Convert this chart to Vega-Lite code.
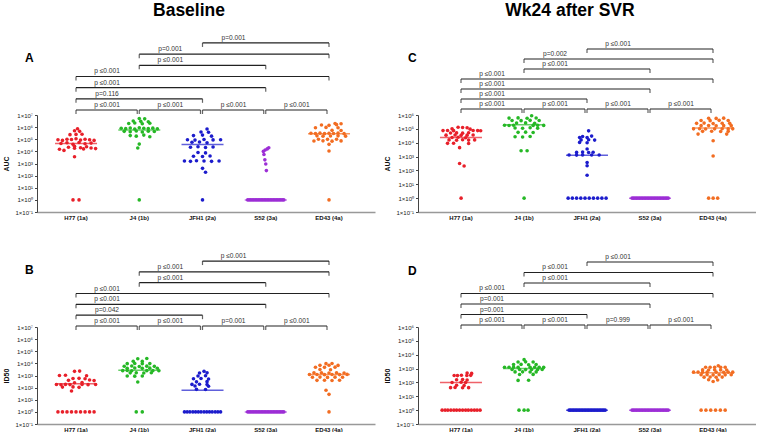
{
"$schema": "https://vega.github.io/schema/vega-lite/v6.json",
"background": "white",
"padding": {"left": 2, "top": 1, "right": 0, "bottom": 0},
"config": {"view": {"stroke": null}, "font": "Liberation Sans", "axis": {"grid": false}},
"datasets": {
"br": [
{"p":"A","a":3,"b":5,"lvl":7,"t":"p=0.001"},{"p":"A","a":2,"b":5,"lvl":6,"t":"p=0.001"},{"p":"A","a":2,"b":4,"lvl":5,"t":"p ≤0.001"},{"p":"A","a":1,"b":5,"lvl":4,"t":"p ≤0.001"},{"p":"A","a":1,"b":4,"lvl":3,"t":"p ≤0.001"},{"p":"A","a":1,"b":3,"lvl":2,"t":"p=0.116"},{"p":"A","a":1,"b":2,"lvl":1,"t":"p ≤0.001"},{"p":"A","a":2,"b":3,"lvl":1,"t":"p ≤0.001"},{"p":"A","a":3,"b":4,"lvl":1,"t":"p ≤0.001"},{"p":"A","a":4,"b":5,"lvl":1,"t":"p ≤0.001"},
{"p":"B","a":3,"b":5,"lvl":7,"t":"p ≤0.001"},{"p":"B","a":2,"b":5,"lvl":6,"t":"p ≤0.001"},{"p":"B","a":2,"b":4,"lvl":5,"t":"p ≤0.001"},{"p":"B","a":1,"b":5,"lvl":4,"t":"p ≤0.001"},{"p":"B","a":1,"b":4,"lvl":3,"t":"p ≤0.001"},{"p":"B","a":1,"b":3,"lvl":2,"t":"p=0.042"},{"p":"B","a":1,"b":2,"lvl":1,"t":"p ≤0.001"},{"p":"B","a":2,"b":3,"lvl":1,"t":"p ≤0.001"},{"p":"B","a":3,"b":4,"lvl":1,"t":"p=0.001"},{"p":"B","a":4,"b":5,"lvl":1,"t":"p ≤0.001"},
{"p":"C","a":3,"b":5,"lvl":7,"t":"p ≤0.001"},{"p":"C","a":2,"b":5,"lvl":6,"t":"p=0.002"},{"p":"C","a":2,"b":4,"lvl":5,"t":"p ≤0.001"},{"p":"C","a":1,"b":5,"lvl":4,"t":"p ≤0.001"},{"p":"C","a":1,"b":4,"lvl":3,"t":"p ≤0.001"},{"p":"C","a":1,"b":3,"lvl":2,"t":"p ≤0.001"},{"p":"C","a":1,"b":2,"lvl":1,"t":"p ≤0.001"},{"p":"C","a":2,"b":3,"lvl":1,"t":"p ≤0.001"},{"p":"C","a":3,"b":4,"lvl":1,"t":"p ≤0.001"},{"p":"C","a":4,"b":5,"lvl":1,"t":"p ≤0.001"},
{"p":"D","a":3,"b":5,"lvl":7,"t":"p ≤0.001"},{"p":"D","a":2,"b":5,"lvl":6,"t":"p ≤0.001"},{"p":"D","a":2,"b":4,"lvl":5,"t":"p ≤0.001"},{"p":"D","a":1,"b":5,"lvl":4,"t":"p ≤0.001"},{"p":"D","a":1,"b":4,"lvl":3,"t":"p=0.001"},{"p":"D","a":1,"b":3,"lvl":2,"t":"p=0.001"},{"p":"D","a":1,"b":2,"lvl":1,"t":"p ≤0.001"},{"p":"D","a":2,"b":3,"lvl":1,"t":"p ≤0.001"},{"p":"D","a":3,"b":4,"lvl":1,"t":"p=0.999"},{"p":"D","a":4,"b":5,"lvl":1,"t":"p ≤0.001"}
],
"med": [
{"p":"A","s":"H77 (1a)","v":45000},{"p":"A","s":"J4 (1b)","v":590000},{"p":"A","s":"JFH1 (2a)","v":37000},{"p":"A","s":"S52 (3a)","v":1},{"p":"A","s":"ED43 (4a)","v":280000},
{"p":"B","s":"H77 (1a)","v":210},{"p":"B","s":"J4 (1b)","v":2700},{"p":"B","s":"JFH1 (2a)","v":60},{"p":"B","s":"S52 (3a)","v":1},{"p":"B","s":"ED43 (4a)","v":1200},
{"p":"C","s":"H77 (1a)","v":24000},{"p":"C","s":"J4 (1b)","v":200000},{"p":"C","s":"JFH1 (2a)","v":1260},{"p":"C","s":"S52 (3a)","v":1},{"p":"C","s":"ED43 (4a)","v":115000},
{"p":"D","s":"H77 (1a)","v":100},{"p":"D","s":"J4 (1b)","v":1000},{"p":"D","s":"JFH1 (2a)","v":1},{"p":"D","s":"S52 (3a)","v":1},{"p":"D","s":"ED43 (4a)","v":500}
],
"pts": [
{"p":"A","s":"H77 (1a)","v":740000,"j":0.5},{"p":"A","s":"H77 (1a)","v":500000,"j":-0.5},{"p":"A","s":"H77 (1a)","v":450000,"j":1.2},{"p":"A","s":"H77 (1a)","v":240000,"j":-2},{"p":"A","s":"H77 (1a)","v":250000,"j":0},{"p":"A","s":"H77 (1a)","v":260000,"j":2},{"p":"A","s":"H77 (1a)","v":90000,"j":-6},{"p":"A","s":"H77 (1a)","v":80000,"j":-4.5},{"p":"A","s":"H77 (1a)","v":100000,"j":-3},{"p":"A","s":"H77 (1a)","v":95000,"j":-1.5},{"p":"A","s":"H77 (1a)","v":110000,"j":0},{"p":"A","s":"H77 (1a)","v":85000,"j":1.5},{"p":"A","s":"H77 (1a)","v":100000,"j":3},{"p":"A","s":"H77 (1a)","v":90000,"j":4.5},{"p":"A","s":"H77 (1a)","v":80000,"j":6},{"p":"A","s":"H77 (1a)","v":45000,"j":-5},{"p":"A","s":"H77 (1a)","v":52000,"j":-3},{"p":"A","s":"H77 (1a)","v":38000,"j":-1},{"p":"A","s":"H77 (1a)","v":54000,"j":1},{"p":"A","s":"H77 (1a)","v":42000,"j":3},{"p":"A","s":"H77 (1a)","v":48000,"j":5},{"p":"A","s":"H77 (1a)","v":22000,"j":-2.5},{"p":"A","s":"H77 (1a)","v":26000,"j":-0.5},{"p":"A","s":"H77 (1a)","v":20000,"j":1.5},{"p":"A","s":"H77 (1a)","v":24000,"j":3.5},{"p":"A","s":"H77 (1a)","v":15000,"j":-5.5},{"p":"A","s":"H77 (1a)","v":12000,"j":-4},{"p":"A","s":"H77 (1a)","v":18000,"j":-0.5},{"p":"A","s":"H77 (1a)","v":16000,"j":2.5},{"p":"A","s":"H77 (1a)","v":19000,"j":5},{"p":"A","s":"H77 (1a)","v":17000,"j":6.5},{"p":"A","s":"H77 (1a)","v":3600,"j":-0.5},{"p":"A","s":"H77 (1a)","v":1,"j":-1},{"p":"A","s":"H77 (1a)","v":1,"j":1},
{"p":"A","s":"J4 (1b)","v":5200000,"j":0},{"p":"A","s":"J4 (1b)","v":4800000,"j":1.8},{"p":"A","s":"J4 (1b)","v":3200000,"j":-2},{"p":"A","s":"J4 (1b)","v":3000000,"j":0.5},{"p":"A","s":"J4 (1b)","v":2800000,"j":3},{"p":"A","s":"J4 (1b)","v":2000000,"j":-3.5},{"p":"A","s":"J4 (1b)","v":2200000,"j":-1.5},{"p":"A","s":"J4 (1b)","v":1900000,"j":1},{"p":"A","s":"J4 (1b)","v":2100000,"j":3.5},{"p":"A","s":"J4 (1b)","v":800000,"j":-6},{"p":"A","s":"J4 (1b)","v":750000,"j":-4.5},{"p":"A","s":"J4 (1b)","v":850000,"j":-3},{"p":"A","s":"J4 (1b)","v":700000,"j":-1.5},{"p":"A","s":"J4 (1b)","v":900000,"j":0},{"p":"A","s":"J4 (1b)","v":800000,"j":1.5},{"p":"A","s":"J4 (1b)","v":780000,"j":3},{"p":"A","s":"J4 (1b)","v":820000,"j":4.5},{"p":"A","s":"J4 (1b)","v":720000,"j":6},{"p":"A","s":"J4 (1b)","v":450000,"j":-5},{"p":"A","s":"J4 (1b)","v":420000,"j":-3},{"p":"A","s":"J4 (1b)","v":480000,"j":-1},{"p":"A","s":"J4 (1b)","v":400000,"j":1},{"p":"A","s":"J4 (1b)","v":460000,"j":3},{"p":"A","s":"J4 (1b)","v":430000,"j":5},{"p":"A","s":"J4 (1b)","v":200000,"j":-3},{"p":"A","s":"J4 (1b)","v":180000,"j":-1},{"p":"A","s":"J4 (1b)","v":220000,"j":1.5},{"p":"A","s":"J4 (1b)","v":160000,"j":3.5},{"p":"A","s":"J4 (1b)","v":40000,"j":0},{"p":"A","s":"J4 (1b)","v":19000,"j":-0.5},{"p":"A","s":"J4 (1b)","v":1,"j":0},
{"p":"A","s":"JFH1 (2a)","v":700000,"j":1.5},{"p":"A","s":"JFH1 (2a)","v":400000,"j":-0.5},{"p":"A","s":"JFH1 (2a)","v":380000,"j":2},{"p":"A","s":"JFH1 (2a)","v":200000,"j":-3},{"p":"A","s":"JFH1 (2a)","v":220000,"j":0},{"p":"A","s":"JFH1 (2a)","v":180000,"j":3},{"p":"A","s":"JFH1 (2a)","v":90000,"j":-5},{"p":"A","s":"JFH1 (2a)","v":85000,"j":-2.5},{"p":"A","s":"JFH1 (2a)","v":95000,"j":0.5},{"p":"A","s":"JFH1 (2a)","v":88000,"j":3.5},{"p":"A","s":"JFH1 (2a)","v":92000,"j":6},{"p":"A","s":"JFH1 (2a)","v":56000,"j":-3.5},{"p":"A","s":"JFH1 (2a)","v":60000,"j":-1},{"p":"A","s":"JFH1 (2a)","v":52000,"j":1.5},{"p":"A","s":"JFH1 (2a)","v":22000,"j":-4},{"p":"A","s":"JFH1 (2a)","v":24000,"j":-1.5},{"p":"A","s":"JFH1 (2a)","v":21000,"j":1},{"p":"A","s":"JFH1 (2a)","v":23000,"j":3.5},{"p":"A","s":"JFH1 (2a)","v":8000,"j":-1.5},{"p":"A","s":"JFH1 (2a)","v":7500,"j":1},{"p":"A","s":"JFH1 (2a)","v":4000,"j":-3},{"p":"A","s":"JFH1 (2a)","v":3800,"j":0},{"p":"A","s":"JFH1 (2a)","v":4200,"j":2.5},{"p":"A","s":"JFH1 (2a)","v":1600,"j":-6},{"p":"A","s":"JFH1 (2a)","v":1500,"j":-4},{"p":"A","s":"JFH1 (2a)","v":1700,"j":-2},{"p":"A","s":"JFH1 (2a)","v":1600,"j":0.5},{"p":"A","s":"JFH1 (2a)","v":1500,"j":3},{"p":"A","s":"JFH1 (2a)","v":1600,"j":5.5},{"p":"A","s":"JFH1 (2a)","v":400,"j":0},{"p":"A","s":"JFH1 (2a)","v":190,"j":1},{"p":"A","s":"JFH1 (2a)","v":1,"j":0},
{"p":"A","s":"S52 (3a)","v":20000,"j":1},{"p":"A","s":"S52 (3a)","v":16000,"j":0.5},{"p":"A","s":"S52 (3a)","v":13000,"j":-0.2},{"p":"A","s":"S52 (3a)","v":10000,"j":-0.8},{"p":"A","s":"S52 (3a)","v":5500,"j":-0.6},{"p":"A","s":"S52 (3a)","v":2000,"j":-0.3},{"p":"A","s":"S52 (3a)","v":900,"j":0},{"p":"A","s":"S52 (3a)","v":260,"j":0.2},
{"p":"A","s":"S52 (3a)","v":1,"j":-6},{"p":"A","s":"S52 (3a)","v":1,"j":-5.5},{"p":"A","s":"S52 (3a)","v":1,"j":-5},{"p":"A","s":"S52 (3a)","v":1,"j":-4.5},{"p":"A","s":"S52 (3a)","v":1,"j":-4},{"p":"A","s":"S52 (3a)","v":1,"j":-3.5},{"p":"A","s":"S52 (3a)","v":1,"j":-3},{"p":"A","s":"S52 (3a)","v":1,"j":-2.5},{"p":"A","s":"S52 (3a)","v":1,"j":-2},{"p":"A","s":"S52 (3a)","v":1,"j":-1.5},{"p":"A","s":"S52 (3a)","v":1,"j":-1},{"p":"A","s":"S52 (3a)","v":1,"j":-0.5},{"p":"A","s":"S52 (3a)","v":1,"j":0},{"p":"A","s":"S52 (3a)","v":1,"j":0.5},{"p":"A","s":"S52 (3a)","v":1,"j":1},{"p":"A","s":"S52 (3a)","v":1,"j":1.5},{"p":"A","s":"S52 (3a)","v":1,"j":2},{"p":"A","s":"S52 (3a)","v":1,"j":2.5},{"p":"A","s":"S52 (3a)","v":1,"j":3},{"p":"A","s":"S52 (3a)","v":1,"j":3.5},{"p":"A","s":"S52 (3a)","v":1,"j":4},{"p":"A","s":"S52 (3a)","v":1,"j":4.5},{"p":"A","s":"S52 (3a)","v":1,"j":5},{"p":"A","s":"S52 (3a)","v":1,"j":5.5},{"p":"A","s":"S52 (3a)","v":1,"j":6},
{"p":"A","s":"ED43 (4a)","v":2000000,"j":2},{"p":"A","s":"ED43 (4a)","v":1900000,"j":4},{"p":"A","s":"ED43 (4a)","v":1500000,"j":-2.5},{"p":"A","s":"ED43 (4a)","v":1400000,"j":0},{"p":"A","s":"ED43 (4a)","v":1600000,"j":2.5},{"p":"A","s":"ED43 (4a)","v":900000,"j":-4.5},{"p":"A","s":"ED43 (4a)","v":950000,"j":-1},{"p":"A","s":"ED43 (4a)","v":880000,"j":3},{"p":"A","s":"ED43 (4a)","v":540000,"j":1},{"p":"A","s":"ED43 (4a)","v":520000,"j":4},{"p":"A","s":"ED43 (4a)","v":310000,"j":-6},{"p":"A","s":"ED43 (4a)","v":300000,"j":-4.5},{"p":"A","s":"ED43 (4a)","v":320000,"j":-3},{"p":"A","s":"ED43 (4a)","v":290000,"j":-1.5},{"p":"A","s":"ED43 (4a)","v":310000,"j":0},{"p":"A","s":"ED43 (4a)","v":300000,"j":1.5},{"p":"A","s":"ED43 (4a)","v":320000,"j":3},{"p":"A","s":"ED43 (4a)","v":290000,"j":5},{"p":"A","s":"ED43 (4a)","v":190000,"j":-4},{"p":"A","s":"ED43 (4a)","v":180000,"j":-2},{"p":"A","s":"ED43 (4a)","v":185000,"j":0.5},{"p":"A","s":"ED43 (4a)","v":190000,"j":3},{"p":"A","s":"ED43 (4a)","v":180000,"j":5.5},{"p":"A","s":"ED43 (4a)","v":100000,"j":-3.5},{"p":"A","s":"ED43 (4a)","v":98000,"j":-0.5},{"p":"A","s":"ED43 (4a)","v":100000,"j":2.5},{"p":"A","s":"ED43 (4a)","v":72000,"j":-5},{"p":"A","s":"ED43 (4a)","v":74000,"j":-2},{"p":"A","s":"ED43 (4a)","v":70000,"j":1},{"p":"A","s":"ED43 (4a)","v":73000,"j":4},{"p":"A","s":"ED43 (4a)","v":38000,"j":0},{"p":"A","s":"ED43 (4a)","v":10700,"j":0},{"p":"A","s":"ED43 (4a)","v":1,"j":0},

{"p":"B","s":"H77 (1a)","v":2200,"j":-0.5},{"p":"B","s":"H77 (1a)","v":2300,"j":1.2},{"p":"B","s":"H77 (1a)","v":1000,"j":-5.5},{"p":"B","s":"H77 (1a)","v":1050,"j":-3.5},{"p":"B","s":"H77 (1a)","v":950,"j":3.5},{"p":"B","s":"H77 (1a)","v":560,"j":-1},{"p":"B","s":"H77 (1a)","v":580,"j":1},{"p":"B","s":"H77 (1a)","v":540,"j":3},{"p":"B","s":"H77 (1a)","v":400,"j":-2.5},{"p":"B","s":"H77 (1a)","v":420,"j":4.5},{"p":"B","s":"H77 (1a)","v":380,"j":6},{"p":"B","s":"H77 (1a)","v":250,"j":-0.5},{"p":"B","s":"H77 (1a)","v":260,"j":2},{"p":"B","s":"H77 (1a)","v":180,"j":-6.5},{"p":"B","s":"H77 (1a)","v":175,"j":-5},{"p":"B","s":"H77 (1a)","v":185,"j":-3.5},{"p":"B","s":"H77 (1a)","v":178,"j":-2},{"p":"B","s":"H77 (1a)","v":182,"j":2},{"p":"B","s":"H77 (1a)","v":176,"j":4},{"p":"B","s":"H77 (1a)","v":180,"j":6.5},{"p":"B","s":"H77 (1a)","v":110,"j":-4.5},{"p":"B","s":"H77 (1a)","v":115,"j":-1},{"p":"B","s":"H77 (1a)","v":105,"j":1},{"p":"B","s":"H77 (1a)","v":52,"j":-1.5},
{"p":"B","s":"H77 (1a)","v":1,"j":-6},{"p":"B","s":"H77 (1a)","v":1,"j":-4.5},{"p":"B","s":"H77 (1a)","v":1,"j":-3},{"p":"B","s":"H77 (1a)","v":1,"j":-1.5},{"p":"B","s":"H77 (1a)","v":1,"j":0},{"p":"B","s":"H77 (1a)","v":1,"j":1.5},{"p":"B","s":"H77 (1a)","v":1,"j":3},{"p":"B","s":"H77 (1a)","v":1,"j":4.5},{"p":"B","s":"H77 (1a)","v":1,"j":6},
{"p":"B","s":"J4 (1b)","v":24000,"j":-0.5},{"p":"B","s":"J4 (1b)","v":25000,"j":2.5},{"p":"B","s":"J4 (1b)","v":15000,"j":-2},{"p":"B","s":"J4 (1b)","v":14500,"j":1},{"p":"B","s":"J4 (1b)","v":9500,"j":-4},{"p":"B","s":"J4 (1b)","v":9800,"j":-1.5},{"p":"B","s":"J4 (1b)","v":9200,"j":1},{"p":"B","s":"J4 (1b)","v":9600,"j":3.5},{"p":"B","s":"J4 (1b)","v":5800,"j":-5},{"p":"B","s":"J4 (1b)","v":6000,"j":-2.5},{"p":"B","s":"J4 (1b)","v":5600,"j":0},{"p":"B","s":"J4 (1b)","v":5900,"j":2.5},{"p":"B","s":"J4 (1b)","v":5700,"j":5},{"p":"B","s":"J4 (1b)","v":4000,"j":-4},{"p":"B","s":"J4 (1b)","v":4100,"j":-1.5},{"p":"B","s":"J4 (1b)","v":3900,"j":1},{"p":"B","s":"J4 (1b)","v":4050,"j":3.5},{"p":"B","s":"J4 (1b)","v":3950,"j":6},{"p":"B","s":"J4 (1b)","v":2500,"j":-5.5},{"p":"B","s":"J4 (1b)","v":2550,"j":-4},{"p":"B","s":"J4 (1b)","v":2450,"j":-2.5},{"p":"B","s":"J4 (1b)","v":2500,"j":2.5},{"p":"B","s":"J4 (1b)","v":2520,"j":4.5},{"p":"B","s":"J4 (1b)","v":2480,"j":6.5},{"p":"B","s":"J4 (1b)","v":1650,"j":-3},{"p":"B","s":"J4 (1b)","v":1700,"j":-1},{"p":"B","s":"J4 (1b)","v":1600,"j":1.5},{"p":"B","s":"J4 (1b)","v":1680,"j":4},{"p":"B","s":"J4 (1b)","v":900,"j":-4},{"p":"B","s":"J4 (1b)","v":880,"j":-1.5},{"p":"B","s":"J4 (1b)","v":920,"j":1},{"p":"B","s":"J4 (1b)","v":290,"j":-0.5},{"p":"B","s":"J4 (1b)","v":1,"j":-1},{"p":"B","s":"J4 (1b)","v":1,"j":1},
{"p":"B","s":"JFH1 (2a)","v":2200,"j":0.5},{"p":"B","s":"JFH1 (2a)","v":1600,"j":-1},{"p":"B","s":"JFH1 (2a)","v":1650,"j":1.5},{"p":"B","s":"JFH1 (2a)","v":900,"j":-1.5},{"p":"B","s":"JFH1 (2a)","v":950,"j":1},{"p":"B","s":"JFH1 (2a)","v":540,"j":-3},{"p":"B","s":"JFH1 (2a)","v":560,"j":-0.5},{"p":"B","s":"JFH1 (2a)","v":520,"j":2},{"p":"B","s":"JFH1 (2a)","v":300,"j":-2},{"p":"B","s":"JFH1 (2a)","v":310,"j":1.5},{"p":"B","s":"JFH1 (2a)","v":185,"j":-3.5},{"p":"B","s":"JFH1 (2a)","v":190,"j":-1},{"p":"B","s":"JFH1 (2a)","v":180,"j":1.5},{"p":"B","s":"JFH1 (2a)","v":135,"j":-2.5},{"p":"B","s":"JFH1 (2a)","v":130,"j":2},{"p":"B","s":"JFH1 (2a)","v":72,"j":-2},{"p":"B","s":"JFH1 (2a)","v":70,"j":1},
{"p":"B","s":"JFH1 (2a)","v":1,"j":-6},{"p":"B","s":"JFH1 (2a)","v":1,"j":-5.1},{"p":"B","s":"JFH1 (2a)","v":1,"j":-4.2},{"p":"B","s":"JFH1 (2a)","v":1,"j":-3.2},{"p":"B","s":"JFH1 (2a)","v":1,"j":-2.3},{"p":"B","s":"JFH1 (2a)","v":1,"j":-1.4},{"p":"B","s":"JFH1 (2a)","v":1,"j":-0.5},{"p":"B","s":"JFH1 (2a)","v":1,"j":0.5},{"p":"B","s":"JFH1 (2a)","v":1,"j":1.4},{"p":"B","s":"JFH1 (2a)","v":1,"j":2.3},{"p":"B","s":"JFH1 (2a)","v":1,"j":3.2},{"p":"B","s":"JFH1 (2a)","v":1,"j":4.2},{"p":"B","s":"JFH1 (2a)","v":1,"j":5.1},{"p":"B","s":"JFH1 (2a)","v":1,"j":6},
{"p":"B","s":"S52 (3a)","v":1,"j":-6},{"p":"B","s":"S52 (3a)","v":1,"j":-5.5},{"p":"B","s":"S52 (3a)","v":1,"j":-5},{"p":"B","s":"S52 (3a)","v":1,"j":-4.5},{"p":"B","s":"S52 (3a)","v":1,"j":-4},{"p":"B","s":"S52 (3a)","v":1,"j":-3.5},{"p":"B","s":"S52 (3a)","v":1,"j":-3},{"p":"B","s":"S52 (3a)","v":1,"j":-2.5},{"p":"B","s":"S52 (3a)","v":1,"j":-2},{"p":"B","s":"S52 (3a)","v":1,"j":-1.5},{"p":"B","s":"S52 (3a)","v":1,"j":-1},{"p":"B","s":"S52 (3a)","v":1,"j":-0.5},{"p":"B","s":"S52 (3a)","v":1,"j":0},{"p":"B","s":"S52 (3a)","v":1,"j":0.5},{"p":"B","s":"S52 (3a)","v":1,"j":1},{"p":"B","s":"S52 (3a)","v":1,"j":1.5},{"p":"B","s":"S52 (3a)","v":1,"j":2},{"p":"B","s":"S52 (3a)","v":1,"j":2.5},{"p":"B","s":"S52 (3a)","v":1,"j":3},{"p":"B","s":"S52 (3a)","v":1,"j":3.5},{"p":"B","s":"S52 (3a)","v":1,"j":4},{"p":"B","s":"S52 (3a)","v":1,"j":4.5},{"p":"B","s":"S52 (3a)","v":1,"j":5},{"p":"B","s":"S52 (3a)","v":1,"j":5.5},{"p":"B","s":"S52 (3a)","v":1,"j":6},
{"p":"B","s":"ED43 (4a)","v":9500,"j":-1},{"p":"B","s":"ED43 (4a)","v":9700,"j":1},{"p":"B","s":"ED43 (4a)","v":6900,"j":-3},{"p":"B","s":"ED43 (4a)","v":7100,"j":0},{"p":"B","s":"ED43 (4a)","v":6800,"j":3},{"p":"B","s":"ED43 (4a)","v":4800,"j":-4.5},{"p":"B","s":"ED43 (4a)","v":4700,"j":-1.5},{"p":"B","s":"ED43 (4a)","v":4900,"j":2},{"p":"B","s":"ED43 (4a)","v":3100,"j":-3},{"p":"B","s":"ED43 (4a)","v":3000,"j":0.5},{"p":"B","s":"ED43 (4a)","v":1650,"j":-5},{"p":"B","s":"ED43 (4a)","v":1700,"j":-2.5},{"p":"B","s":"ED43 (4a)","v":1600,"j":0},{"p":"B","s":"ED43 (4a)","v":1680,"j":2.5},{"p":"B","s":"ED43 (4a)","v":1620,"j":5},{"p":"B","s":"ED43 (4a)","v":1200,"j":-6.5},{"p":"B","s":"ED43 (4a)","v":1220,"j":-4},{"p":"B","s":"ED43 (4a)","v":1180,"j":-1.5},{"p":"B","s":"ED43 (4a)","v":1210,"j":1},{"p":"B","s":"ED43 (4a)","v":1190,"j":3.5},{"p":"B","s":"ED43 (4a)","v":1230,"j":6},{"p":"B","s":"ED43 (4a)","v":720,"j":-5.5},{"p":"B","s":"ED43 (4a)","v":740,"j":-3},{"p":"B","s":"ED43 (4a)","v":700,"j":-0.5},{"p":"B","s":"ED43 (4a)","v":730,"j":2},{"p":"B","s":"ED43 (4a)","v":710,"j":4.5},{"p":"B","s":"ED43 (4a)","v":400,"j":-4},{"p":"B","s":"ED43 (4a)","v":410,"j":-1.5},{"p":"B","s":"ED43 (4a)","v":390,"j":1},{"p":"B","s":"ED43 (4a)","v":405,"j":3.5},{"p":"B","s":"ED43 (4a)","v":60,"j":-1},{"p":"B","s":"ED43 (4a)","v":28,"j":0},{"p":"B","s":"ED43 (4a)","v":1,"j":0},

{"p":"C","s":"H77 (1a)","v":130000,"j":-1},{"p":"C","s":"H77 (1a)","v":125000,"j":0.5},{"p":"C","s":"H77 (1a)","v":120000,"j":2},{"p":"C","s":"H77 (1a)","v":100000,"j":-3},{"p":"C","s":"H77 (1a)","v":95000,"j":3},{"p":"C","s":"H77 (1a)","v":75000,"j":-6},{"p":"C","s":"H77 (1a)","v":77000,"j":-4.5},{"p":"C","s":"H77 (1a)","v":74000,"j":-2.5},{"p":"C","s":"H77 (1a)","v":76000,"j":4},{"p":"C","s":"H77 (1a)","v":75000,"j":5.5},{"p":"C","s":"H77 (1a)","v":73000,"j":6.5},{"p":"C","s":"H77 (1a)","v":50000,"j":-3.5},{"p":"C","s":"H77 (1a)","v":51000,"j":-1.5},{"p":"C","s":"H77 (1a)","v":49000,"j":0.5},{"p":"C","s":"H77 (1a)","v":52000,"j":2.5},{"p":"C","s":"H77 (1a)","v":35000,"j":-5},{"p":"C","s":"H77 (1a)","v":36000,"j":-2},{"p":"C","s":"H77 (1a)","v":34000,"j":0},{"p":"C","s":"H77 (1a)","v":35000,"j":2},{"p":"C","s":"H77 (1a)","v":36000,"j":4},{"p":"C","s":"H77 (1a)","v":24000,"j":-3},{"p":"C","s":"H77 (1a)","v":25000,"j":-1},{"p":"C","s":"H77 (1a)","v":23000,"j":1.5},{"p":"C","s":"H77 (1a)","v":16000,"j":-4},{"p":"C","s":"H77 (1a)","v":15000,"j":-1.5},{"p":"C","s":"H77 (1a)","v":16500,"j":0.5},{"p":"C","s":"H77 (1a)","v":15500,"j":2.5},{"p":"C","s":"H77 (1a)","v":16000,"j":4.5},{"p":"C","s":"H77 (1a)","v":9000,"j":-4.5},{"p":"C","s":"H77 (1a)","v":9200,"j":-2.5},{"p":"C","s":"H77 (1a)","v":8800,"j":2.5},{"p":"C","s":"H77 (1a)","v":4400,"j":-0.5},{"p":"C","s":"H77 (1a)","v":320,"j":-0.5},{"p":"C","s":"H77 (1a)","v":210,"j":1},{"p":"C","s":"H77 (1a)","v":1,"j":0},
{"p":"C","s":"J4 (1b)","v":890000,"j":2.5},{"p":"C","s":"J4 (1b)","v":600000,"j":-5},{"p":"C","s":"J4 (1b)","v":620000,"j":-2},{"p":"C","s":"J4 (1b)","v":580000,"j":1},{"p":"C","s":"J4 (1b)","v":610000,"j":4},{"p":"C","s":"J4 (1b)","v":400000,"j":-4},{"p":"C","s":"J4 (1b)","v":390000,"j":-1},{"p":"C","s":"J4 (1b)","v":410000,"j":2},{"p":"C","s":"J4 (1b)","v":400000,"j":5},{"p":"C","s":"J4 (1b)","v":260000,"j":-2.5},{"p":"C","s":"J4 (1b)","v":270000,"j":0.5},{"p":"C","s":"J4 (1b)","v":250000,"j":3.5},{"p":"C","s":"J4 (1b)","v":180000,"j":-6.5},{"p":"C","s":"J4 (1b)","v":175000,"j":-5},{"p":"C","s":"J4 (1b)","v":180000,"j":-3.5},{"p":"C","s":"J4 (1b)","v":178000,"j":3},{"p":"C","s":"J4 (1b)","v":182000,"j":4.5},{"p":"C","s":"J4 (1b)","v":177000,"j":6.5},{"p":"C","s":"J4 (1b)","v":115000,"j":-3},{"p":"C","s":"J4 (1b)","v":110000,"j":-0.5},{"p":"C","s":"J4 (1b)","v":120000,"j":2},{"p":"C","s":"J4 (1b)","v":112000,"j":4.5},{"p":"C","s":"J4 (1b)","v":56000,"j":-2},{"p":"C","s":"J4 (1b)","v":58000,"j":0.5},{"p":"C","s":"J4 (1b)","v":55000,"j":3},{"p":"C","s":"J4 (1b)","v":27000,"j":-3},{"p":"C","s":"J4 (1b)","v":26000,"j":-0.5},{"p":"C","s":"J4 (1b)","v":28000,"j":2},{"p":"C","s":"J4 (1b)","v":2600,"j":-1},{"p":"C","s":"J4 (1b)","v":2650,"j":1},{"p":"C","s":"J4 (1b)","v":1,"j":0},
{"p":"C","s":"JFH1 (2a)","v":72000,"j":0.5},{"p":"C","s":"JFH1 (2a)","v":28000,"j":-1.5},{"p":"C","s":"JFH1 (2a)","v":30000,"j":1.5},{"p":"C","s":"JFH1 (2a)","v":24000,"j":-2.5},{"p":"C","s":"JFH1 (2a)","v":23500,"j":0},{"p":"C","s":"JFH1 (2a)","v":16000,"j":-2},{"p":"C","s":"JFH1 (2a)","v":16500,"j":0.5},{"p":"C","s":"JFH1 (2a)","v":15500,"j":2.5},{"p":"C","s":"JFH1 (2a)","v":10500,"j":-2.5},{"p":"C","s":"JFH1 (2a)","v":10000,"j":0},{"p":"C","s":"JFH1 (2a)","v":3500,"j":0},{"p":"C","s":"JFH1 (2a)","v":2000,"j":-3.5},{"p":"C","s":"JFH1 (2a)","v":2100,"j":-1.5},{"p":"C","s":"JFH1 (2a)","v":1950,"j":0.5},{"p":"C","s":"JFH1 (2a)","v":2050,"j":2},{"p":"C","s":"JFH1 (2a)","v":1300,"j":-6},{"p":"C","s":"JFH1 (2a)","v":1280,"j":-3.5},{"p":"C","s":"JFH1 (2a)","v":1320,"j":-1.5},{"p":"C","s":"JFH1 (2a)","v":1290,"j":1.5},{"p":"C","s":"JFH1 (2a)","v":1310,"j":4},{"p":"C","s":"JFH1 (2a)","v":370,"j":0},{"p":"C","s":"JFH1 (2a)","v":215,"j":0},{"p":"C","s":"JFH1 (2a)","v":45,"j":0},
{"p":"C","s":"JFH1 (2a)","v":1,"j":-6.3},{"p":"C","s":"JFH1 (2a)","v":1,"j":-4.9},{"p":"C","s":"JFH1 (2a)","v":1,"j":-3.5},{"p":"C","s":"JFH1 (2a)","v":1,"j":-2.1},{"p":"C","s":"JFH1 (2a)","v":1,"j":-0.7},{"p":"C","s":"JFH1 (2a)","v":1,"j":0.7},{"p":"C","s":"JFH1 (2a)","v":1,"j":2.1},{"p":"C","s":"JFH1 (2a)","v":1,"j":3.5},{"p":"C","s":"JFH1 (2a)","v":1,"j":4.9},{"p":"C","s":"JFH1 (2a)","v":1,"j":6.3},
{"p":"C","s":"S52 (3a)","v":1,"j":-6},{"p":"C","s":"S52 (3a)","v":1,"j":-5.5},{"p":"C","s":"S52 (3a)","v":1,"j":-5},{"p":"C","s":"S52 (3a)","v":1,"j":-4.5},{"p":"C","s":"S52 (3a)","v":1,"j":-4},{"p":"C","s":"S52 (3a)","v":1,"j":-3.5},{"p":"C","s":"S52 (3a)","v":1,"j":-3},{"p":"C","s":"S52 (3a)","v":1,"j":-2.5},{"p":"C","s":"S52 (3a)","v":1,"j":-2},{"p":"C","s":"S52 (3a)","v":1,"j":-1.5},{"p":"C","s":"S52 (3a)","v":1,"j":-1},{"p":"C","s":"S52 (3a)","v":1,"j":-0.5},{"p":"C","s":"S52 (3a)","v":1,"j":0},{"p":"C","s":"S52 (3a)","v":1,"j":0.5},{"p":"C","s":"S52 (3a)","v":1,"j":1},{"p":"C","s":"S52 (3a)","v":1,"j":1.5},{"p":"C","s":"S52 (3a)","v":1,"j":2},{"p":"C","s":"S52 (3a)","v":1,"j":2.5},{"p":"C","s":"S52 (3a)","v":1,"j":3},{"p":"C","s":"S52 (3a)","v":1,"j":3.5},{"p":"C","s":"S52 (3a)","v":1,"j":4},{"p":"C","s":"S52 (3a)","v":1,"j":4.5},{"p":"C","s":"S52 (3a)","v":1,"j":5},{"p":"C","s":"S52 (3a)","v":1,"j":5.5},{"p":"C","s":"S52 (3a)","v":1,"j":6},
{"p":"C","s":"ED43 (4a)","v":580000,"j":-1.5},{"p":"C","s":"ED43 (4a)","v":570000,"j":1},{"p":"C","s":"ED43 (4a)","v":590000,"j":3.5},{"p":"C","s":"ED43 (4a)","v":400000,"j":-4},{"p":"C","s":"ED43 (4a)","v":390000,"j":-1},{"p":"C","s":"ED43 (4a)","v":410000,"j":2},{"p":"C","s":"ED43 (4a)","v":400000,"j":5},{"p":"C","s":"ED43 (4a)","v":250000,"j":-5.5},{"p":"C","s":"ED43 (4a)","v":260000,"j":-3},{"p":"C","s":"ED43 (4a)","v":240000,"j":0},{"p":"C","s":"ED43 (4a)","v":255000,"j":3},{"p":"C","s":"ED43 (4a)","v":250000,"j":5.5},{"p":"C","s":"ED43 (4a)","v":170000,"j":-4},{"p":"C","s":"ED43 (4a)","v":172000,"j":-1.5},{"p":"C","s":"ED43 (4a)","v":168000,"j":1},{"p":"C","s":"ED43 (4a)","v":170000,"j":3.5},{"p":"C","s":"ED43 (4a)","v":171000,"j":6},{"p":"C","s":"ED43 (4a)","v":100000,"j":-6.5},{"p":"C","s":"ED43 (4a)","v":102000,"j":-4.5},{"p":"C","s":"ED43 (4a)","v":98000,"j":-2.5},{"p":"C","s":"ED43 (4a)","v":100000,"j":0.5},{"p":"C","s":"ED43 (4a)","v":101000,"j":3},{"p":"C","s":"ED43 (4a)","v":99000,"j":5},{"p":"C","s":"ED43 (4a)","v":100000,"j":6.5},{"p":"C","s":"ED43 (4a)","v":66000,"j":-3.5},{"p":"C","s":"ED43 (4a)","v":67000,"j":-0.5},{"p":"C","s":"ED43 (4a)","v":65000,"j":2.5},{"p":"C","s":"ED43 (4a)","v":66000,"j":5},{"p":"C","s":"ED43 (4a)","v":42000,"j":-5},{"p":"C","s":"ED43 (4a)","v":42000,"j":4.5},{"p":"C","s":"ED43 (4a)","v":14000,"j":0},{"p":"C","s":"ED43 (4a)","v":1100,"j":0},{"p":"C","s":"ED43 (4a)","v":1,"j":-1.5},{"p":"C","s":"ED43 (4a)","v":1,"j":0},{"p":"C","s":"ED43 (4a)","v":1,"j":1.5},

{"p":"D","s":"H77 (1a)","v":480,"j":2},{"p":"D","s":"H77 (1a)","v":450,"j":3.5},{"p":"D","s":"H77 (1a)","v":320,"j":-2.3},{"p":"D","s":"H77 (1a)","v":310,"j":-1.2},{"p":"D","s":"H77 (1a)","v":330,"j":0.1},{"p":"D","s":"H77 (1a)","v":315,"j":1.9},{"p":"D","s":"H77 (1a)","v":325,"j":3.2},{"p":"D","s":"H77 (1a)","v":155,"j":-1.5},{"p":"D","s":"H77 (1a)","v":160,"j":0.5},{"p":"D","s":"H77 (1a)","v":150,"j":2},{"p":"D","s":"H77 (1a)","v":100,"j":-3},{"p":"D","s":"H77 (1a)","v":102,"j":0},{"p":"D","s":"H77 (1a)","v":98,"j":1.5},{"p":"D","s":"H77 (1a)","v":62,"j":-1.5},{"p":"D","s":"H77 (1a)","v":60,"j":1},{"p":"D","s":"H77 (1a)","v":42,"j":-3.5},{"p":"D","s":"H77 (1a)","v":43,"j":-2},{"p":"D","s":"H77 (1a)","v":41,"j":0.5},{"p":"D","s":"H77 (1a)","v":42,"j":2.5},
{"p":"D","s":"H77 (1a)","v":1,"j":-6.3},{"p":"D","s":"H77 (1a)","v":1,"j":-5.3},{"p":"D","s":"H77 (1a)","v":1,"j":-4.4},{"p":"D","s":"H77 (1a)","v":1,"j":-3.4},{"p":"D","s":"H77 (1a)","v":1,"j":-2.4},{"p":"D","s":"H77 (1a)","v":1,"j":-1.5},{"p":"D","s":"H77 (1a)","v":1,"j":-0.5},{"p":"D","s":"H77 (1a)","v":1,"j":0.5},{"p":"D","s":"H77 (1a)","v":1,"j":1.5},{"p":"D","s":"H77 (1a)","v":1,"j":2.4},{"p":"D","s":"H77 (1a)","v":1,"j":3.4},{"p":"D","s":"H77 (1a)","v":1,"j":4.4},{"p":"D","s":"H77 (1a)","v":1,"j":5.3},{"p":"D","s":"H77 (1a)","v":1,"j":6.3},
{"p":"D","s":"J4 (1b)","v":4400,"j":0},{"p":"D","s":"J4 (1b)","v":3000,"j":-2},{"p":"D","s":"J4 (1b)","v":3050,"j":0.5},{"p":"D","s":"J4 (1b)","v":2950,"j":3},{"p":"D","s":"J4 (1b)","v":1950,"j":-3.5},{"p":"D","s":"J4 (1b)","v":2000,"j":-1},{"p":"D","s":"J4 (1b)","v":1900,"j":1.5},{"p":"D","s":"J4 (1b)","v":1980,"j":4},{"p":"D","s":"J4 (1b)","v":1250,"j":-6.5},{"p":"D","s":"J4 (1b)","v":1260,"j":-5},{"p":"D","s":"J4 (1b)","v":1240,"j":-3.5},{"p":"D","s":"J4 (1b)","v":1250,"j":-2},{"p":"D","s":"J4 (1b)","v":1255,"j":2},{"p":"D","s":"J4 (1b)","v":1245,"j":3.5},{"p":"D","s":"J4 (1b)","v":1250,"j":5},{"p":"D","s":"J4 (1b)","v":1260,"j":6.5},{"p":"D","s":"J4 (1b)","v":850,"j":-4},{"p":"D","s":"J4 (1b)","v":860,"j":-1.5},{"p":"D","s":"J4 (1b)","v":840,"j":0.5},{"p":"D","s":"J4 (1b)","v":855,"j":2.5},{"p":"D","s":"J4 (1b)","v":845,"j":4.5},{"p":"D","s":"J4 (1b)","v":850,"j":6},{"p":"D","s":"J4 (1b)","v":575,"j":-3},{"p":"D","s":"J4 (1b)","v":580,"j":-0.5},{"p":"D","s":"J4 (1b)","v":570,"j":2},{"p":"D","s":"J4 (1b)","v":575,"j":4},{"p":"D","s":"J4 (1b)","v":370,"j":-1.5},{"p":"D","s":"J4 (1b)","v":380,"j":3},{"p":"D","s":"J4 (1b)","v":140,"j":-2},{"p":"D","s":"J4 (1b)","v":145,"j":1.5},{"p":"D","s":"J4 (1b)","v":1,"j":-1.7},{"p":"D","s":"J4 (1b)","v":1,"j":0},{"p":"D","s":"J4 (1b)","v":1,"j":1.3},
{"p":"D","s":"JFH1 (2a)","v":1,"j":-6},{"p":"D","s":"JFH1 (2a)","v":1,"j":-5.5},{"p":"D","s":"JFH1 (2a)","v":1,"j":-5},{"p":"D","s":"JFH1 (2a)","v":1,"j":-4.5},{"p":"D","s":"JFH1 (2a)","v":1,"j":-4},{"p":"D","s":"JFH1 (2a)","v":1,"j":-3.5},{"p":"D","s":"JFH1 (2a)","v":1,"j":-3},{"p":"D","s":"JFH1 (2a)","v":1,"j":-2.5},{"p":"D","s":"JFH1 (2a)","v":1,"j":-2},{"p":"D","s":"JFH1 (2a)","v":1,"j":-1.5},{"p":"D","s":"JFH1 (2a)","v":1,"j":-1},{"p":"D","s":"JFH1 (2a)","v":1,"j":-0.5},{"p":"D","s":"JFH1 (2a)","v":1,"j":0},{"p":"D","s":"JFH1 (2a)","v":1,"j":0.5},{"p":"D","s":"JFH1 (2a)","v":1,"j":1},{"p":"D","s":"JFH1 (2a)","v":1,"j":1.5},{"p":"D","s":"JFH1 (2a)","v":1,"j":2},{"p":"D","s":"JFH1 (2a)","v":1,"j":2.5},{"p":"D","s":"JFH1 (2a)","v":1,"j":3},{"p":"D","s":"JFH1 (2a)","v":1,"j":3.5},{"p":"D","s":"JFH1 (2a)","v":1,"j":4},{"p":"D","s":"JFH1 (2a)","v":1,"j":4.5},{"p":"D","s":"JFH1 (2a)","v":1,"j":5},{"p":"D","s":"JFH1 (2a)","v":1,"j":5.5},{"p":"D","s":"JFH1 (2a)","v":1,"j":6},
{"p":"D","s":"S52 (3a)","v":1,"j":-6},{"p":"D","s":"S52 (3a)","v":1,"j":-5.5},{"p":"D","s":"S52 (3a)","v":1,"j":-5},{"p":"D","s":"S52 (3a)","v":1,"j":-4.5},{"p":"D","s":"S52 (3a)","v":1,"j":-4},{"p":"D","s":"S52 (3a)","v":1,"j":-3.5},{"p":"D","s":"S52 (3a)","v":1,"j":-3},{"p":"D","s":"S52 (3a)","v":1,"j":-2.5},{"p":"D","s":"S52 (3a)","v":1,"j":-2},{"p":"D","s":"S52 (3a)","v":1,"j":-1.5},{"p":"D","s":"S52 (3a)","v":1,"j":-1},{"p":"D","s":"S52 (3a)","v":1,"j":-0.5},{"p":"D","s":"S52 (3a)","v":1,"j":0},{"p":"D","s":"S52 (3a)","v":1,"j":0.5},{"p":"D","s":"S52 (3a)","v":1,"j":1},{"p":"D","s":"S52 (3a)","v":1,"j":1.5},{"p":"D","s":"S52 (3a)","v":1,"j":2},{"p":"D","s":"S52 (3a)","v":1,"j":2.5},{"p":"D","s":"S52 (3a)","v":1,"j":3},{"p":"D","s":"S52 (3a)","v":1,"j":3.5},{"p":"D","s":"S52 (3a)","v":1,"j":4},{"p":"D","s":"S52 (3a)","v":1,"j":4.5},{"p":"D","s":"S52 (3a)","v":1,"j":5},{"p":"D","s":"S52 (3a)","v":1,"j":5.5},{"p":"D","s":"S52 (3a)","v":1,"j":6},
{"p":"D","s":"ED43 (4a)","v":1600,"j":1.7},{"p":"D","s":"ED43 (4a)","v":1250,"j":-2.5},{"p":"D","s":"ED43 (4a)","v":1260,"j":-1},{"p":"D","s":"ED43 (4a)","v":1240,"j":0.5},{"p":"D","s":"ED43 (4a)","v":1255,"j":2.5},{"p":"D","s":"ED43 (4a)","v":1245,"j":4},{"p":"D","s":"ED43 (4a)","v":800,"j":-3.5},{"p":"D","s":"ED43 (4a)","v":790,"j":-1.5},{"p":"D","s":"ED43 (4a)","v":810,"j":0.5},{"p":"D","s":"ED43 (4a)","v":805,"j":2.5},{"p":"D","s":"ED43 (4a)","v":795,"j":4.5},{"p":"D","s":"ED43 (4a)","v":550,"j":-6.5},{"p":"D","s":"ED43 (4a)","v":555,"j":-5},{"p":"D","s":"ED43 (4a)","v":545,"j":-3.5},{"p":"D","s":"ED43 (4a)","v":550,"j":-2},{"p":"D","s":"ED43 (4a)","v":552,"j":1},{"p":"D","s":"ED43 (4a)","v":548,"j":3.5},{"p":"D","s":"ED43 (4a)","v":550,"j":5},{"p":"D","s":"ED43 (4a)","v":553,"j":6.5},{"p":"D","s":"ED43 (4a)","v":355,"j":-4},{"p":"D","s":"ED43 (4a)","v":360,"j":-2},{"p":"D","s":"ED43 (4a)","v":350,"j":0},{"p":"D","s":"ED43 (4a)","v":358,"j":2},{"p":"D","s":"ED43 (4a)","v":352,"j":4},{"p":"D","s":"ED43 (4a)","v":356,"j":6},{"p":"D","s":"ED43 (4a)","v":240,"j":-3},{"p":"D","s":"ED43 (4a)","v":245,"j":-1},{"p":"D","s":"ED43 (4a)","v":235,"j":1},{"p":"D","s":"ED43 (4a)","v":242,"j":3},{"p":"D","s":"ED43 (4a)","v":155,"j":-1.5},{"p":"D","s":"ED43 (4a)","v":150,"j":1.5},{"p":"D","s":"ED43 (4a)","v":117,"j":0},{"p":"D","s":"ED43 (4a)","v":1,"j":-4},{"p":"D","s":"ED43 (4a)","v":1,"j":-2.4},{"p":"D","s":"ED43 (4a)","v":1,"j":-0.8},{"p":"D","s":"ED43 (4a)","v":1,"j":0.8},{"p":"D","s":"ED43 (4a)","v":1,"j":2.4},{"p":"D","s":"ED43 (4a)","v":1,"j":4}
]
},
"spacing": 8,
"hconcat": [
{
"title": {"text": "Baseline", "fontSize": 17.5, "fontWeight": "bold", "anchor": "middle", "frame": "bounds", "offset": -4, "baseline": "alphabetic", "color": "#000"},
"spacing": 0,
"bounds": "flush",
"vconcat": [
{
"width": 338, "height": 86,
"title": {"text": "A", "anchor": "start", "frame": "group", "fontSize": 12, "fontWeight": "bold", "offset": 0, "dx": -12, "dy": 45, "baseline": "alphabetic", "color": "#000"},
"data": {"name": "br"},
"transform": [{"filter": "datum.p == 'A'"}],
"encoding": {"y": {"field": "lvl", "type": "quantitative", "scale": {"domain": [0.552, 8.25], "nice": false, "zero": false}, "axis": null}},
"layer": [
{"transform": [{"filter": "datum.lvl > 1"}], "mark": {"type": "rule", "color": "#222", "strokeWidth": 1.2}, "encoding": {"x": {"field": "a", "type": "quantitative", "scale": {"domain": [0.3834, 5.7273], "nice": false, "zero": false}, "axis": null}, "x2": {"field": "b"}}},
{"transform": [{"filter": "datum.lvl == 1"}], "mark": {"type": "rule", "color": "#222", "strokeWidth": 1.2, "x2Offset": -2}, "encoding": {"x": {"field": "a", "type": "quantitative", "scale": {"domain": [0.3834, 5.7273], "nice": false, "zero": false}, "axis": null}, "x2": {"field": "b"}}},
{"mark": {"type": "tick", "orient": "vertical", "size": 4, "thickness": 1.2, "yOffset": 2, "color": "#222"}, "encoding": {"x": {"field": "a", "type": "quantitative", "scale": {"domain": [0.3834, 5.7273], "nice": false, "zero": false}, "axis": null}}},
{"transform": [{"filter": "datum.lvl > 1"}], "mark": {"type": "tick", "orient": "vertical", "size": 4, "thickness": 1.2, "yOffset": 2, "color": "#222"}, "encoding": {"x": {"field": "b", "type": "quantitative", "scale": {"domain": [0.3834, 5.7273], "nice": false, "zero": false}, "axis": null}}},
{"transform": [{"filter": "datum.lvl == 1"}], "mark": {"type": "tick", "orient": "vertical", "size": 4, "thickness": 1.2, "yOffset": 2, "xOffset": -2, "color": "#222"}, "encoding": {"x": {"field": "b", "type": "quantitative", "scale": {"domain": [0.3834, 5.7273], "nice": false, "zero": false}, "axis": null}}},
{"mark": {"type": "text", "fontSize": 6.6, "dx": 31, "dy": -2, "baseline": "bottom", "align": "center", "color": "#333"}, "encoding": {"x": {"field": "a", "type": "quantitative", "scale": {"domain": [0.3834, 5.7273], "nice": false, "zero": false}, "axis": null}, "text": {"field": "t"}}}
]
},
{
"width": 338, "height": 97,
"layer": [
{"data": {"name": "pts"}, "transform": [{"filter": "datum.p == 'A'"}], "mark": {"type": "circle", "size": 13, "opacity": 1},
"encoding": {
"x": {"field": "s", "type": "nominal", "scale": {"type": "band", "domain": ["H77 (1a)","J4 (1b)","JFH1 (2a)","S52 (3a)","ED43 (4a)"], "paddingInner": 0, "paddingOuter": 0.172, "align": 0.34}, "axis": {"title": null, "ticks": false, "labelAngle": 0, "labelFontSize": 6, "labelFontWeight": "bold", "labelPadding": 2, "labelColor": "#111", "domainColor": "#999", "domainWidth": 1.5}},
"xOffset": {"field": "j", "type": "quantitative", "scale": {"domain": [-10.5, 10.5]}},
"y": {"field": "v", "type": "quantitative", "scale": {"type": "log", "domain": [0.1, 10000000], "nice": false}, "axis": {"title": "AUC", "titleFontSize": 7, "titleFontWeight": "bold", "titleColor": "#111", "titlePadding": 5, "values": [0.1, 1, 10, 100, 1000, 10000, 100000, 1000000, 10000000], "labelExpr": "'1×10' + (datum.value < 0.5 ? '⁻¹' : ['⁰','¹','²','³','⁴','⁵','⁶','⁷'][round(log(datum.value)/LN10)])", "labelFontSize": 6, "labelColor": "#222", "labelPadding": 2, "labelOverlap": false, "labelFlush": false, "tickSize": 2.5, "tickColor": "#444", "domainColor": "#444"}},
"color": {"field": "s", "type": "nominal", "scale": {"domain": ["H77 (1a)","J4 (1b)","JFH1 (2a)","S52 (3a)","ED43 (4a)"], "range": ["#e8202a","#26b826","#1c1ccc","#9d2fd6","#f26d22"]}, "legend": null}
}},
{"data": {"name": "med"}, "transform": [{"filter": "datum.p == 'A'"}], "mark": {"type": "tick", "orient": "horizontal", "size": 42, "thickness": 1.5},
"encoding": {"x": {"field": "s", "type": "nominal"}, "y": {"field": "v", "type": "quantitative"}, "color": {"field": "s", "type": "nominal", "legend": null}}}
]
},
{
"width": 338, "height": 115,
"title": {"text": "B", "anchor": "start", "frame": "group", "fontSize": 12, "fontWeight": "bold", "offset": 0, "dx": -12, "dy": 74, "baseline": "alphabetic", "color": "#000"},
"data": {"name": "br"},
"transform": [{"filter": "datum.p == 'B'"}],
"encoding": {"y": {"field": "lvl", "type": "quantitative", "scale": {"domain": [0.908, 11.53], "nice": false, "zero": false}, "axis": null}},
"layer": [
{"transform": [{"filter": "datum.lvl > 1"}], "mark": {"type": "rule", "color": "#222", "strokeWidth": 1.2}, "encoding": {"x": {"field": "a", "type": "quantitative", "scale": {"domain": [0.3834, 5.7273], "nice": false, "zero": false}, "axis": null}, "x2": {"field": "b"}}},
{"transform": [{"filter": "datum.lvl == 1"}], "mark": {"type": "rule", "color": "#222", "strokeWidth": 1.2, "x2Offset": -2}, "encoding": {"x": {"field": "a", "type": "quantitative", "scale": {"domain": [0.3834, 5.7273], "nice": false, "zero": false}, "axis": null}, "x2": {"field": "b"}}},
{"mark": {"type": "tick", "orient": "vertical", "size": 4, "thickness": 1.2, "yOffset": 2, "color": "#222"}, "encoding": {"x": {"field": "a", "type": "quantitative", "scale": {"domain": [0.3834, 5.7273], "nice": false, "zero": false}, "axis": null}}},
{"transform": [{"filter": "datum.lvl > 1"}], "mark": {"type": "tick", "orient": "vertical", "size": 4, "thickness": 1.2, "yOffset": 2, "color": "#222"}, "encoding": {"x": {"field": "b", "type": "quantitative", "scale": {"domain": [0.3834, 5.7273], "nice": false, "zero": false}, "axis": null}}},
{"transform": [{"filter": "datum.lvl == 1"}], "mark": {"type": "tick", "orient": "vertical", "size": 4, "thickness": 1.2, "yOffset": 2, "xOffset": -2, "color": "#222"}, "encoding": {"x": {"field": "b", "type": "quantitative", "scale": {"domain": [0.3834, 5.7273], "nice": false, "zero": false}, "axis": null}}},
{"mark": {"type": "text", "fontSize": 6.6, "dx": 31, "dy": -2, "baseline": "bottom", "align": "center", "color": "#333"}, "encoding": {"x": {"field": "a", "type": "quantitative", "scale": {"domain": [0.3834, 5.7273], "nice": false, "zero": false}, "axis": null}, "text": {"field": "t"}}}
]
},
{
"width": 338, "height": 97,
"layer": [
{"data": {"name": "pts"}, "transform": [{"filter": "datum.p == 'B'"}], "mark": {"type": "circle", "size": 13, "opacity": 1},
"encoding": {
"x": {"field": "s", "type": "nominal", "scale": {"type": "band", "domain": ["H77 (1a)","J4 (1b)","JFH1 (2a)","S52 (3a)","ED43 (4a)"], "paddingInner": 0, "paddingOuter": 0.172, "align": 0.34}, "axis": {"title": null, "ticks": false, "labelAngle": 0, "labelFontSize": 6, "labelFontWeight": "bold", "labelPadding": 2, "labelColor": "#111", "domainColor": "#999", "domainWidth": 1.5}},
"xOffset": {"field": "j", "type": "quantitative", "scale": {"domain": [-10.5, 10.5]}},
"y": {"field": "v", "type": "quantitative", "scale": {"type": "log", "domain": [0.1, 10000000], "nice": false}, "axis": {"title": "ID50", "titleFontSize": 7, "titleFontWeight": "bold", "titleColor": "#111", "titlePadding": 5, "values": [0.1, 1, 10, 100, 1000, 10000, 100000, 1000000, 10000000], "labelExpr": "'1×10' + (datum.value < 0.5 ? '⁻¹' : ['⁰','¹','²','³','⁴','⁵','⁶','⁷'][round(log(datum.value)/LN10)])", "labelFontSize": 6, "labelColor": "#222", "labelPadding": 2, "labelOverlap": false, "labelFlush": false, "tickSize": 2.5, "tickColor": "#444", "domainColor": "#444"}},
"color": {"field": "s", "type": "nominal", "scale": {"domain": ["H77 (1a)","J4 (1b)","JFH1 (2a)","S52 (3a)","ED43 (4a)"], "range": ["#e8202a","#26b826","#1c1ccc","#9d2fd6","#f26d22"]}, "legend": null}
}},
{"data": {"name": "med"}, "transform": [{"filter": "datum.p == 'B'"}], "mark": {"type": "tick", "orient": "horizontal", "size": 42, "thickness": 1.5},
"encoding": {"x": {"field": "s", "type": "nominal"}, "y": {"field": "v", "type": "quantitative"}, "color": {"field": "s", "type": "nominal", "legend": null}}}
]
}
]
},
{
"title": {"text": "Wk24 after SVR", "fontSize": 17.5, "fontWeight": "bold", "anchor": "middle", "frame": "bounds", "offset": -4, "baseline": "alphabetic", "color": "#000"},
"spacing": 0,
"bounds": "flush",
"vconcat": [
{
"width": 338, "height": 86,
"title": {"text": "C", "anchor": "start", "frame": "group", "fontSize": 12, "fontWeight": "bold", "offset": 0, "dx": -10, "dy": 45, "baseline": "alphabetic", "color": "#000"},
"data": {"name": "br"},
"transform": [{"filter": "datum.p == 'C'"}],
"encoding": {"y": {"field": "lvl", "type": "quantitative", "scale": {"domain": [0.4, 9.0], "nice": false, "zero": false}, "axis": null}},
"layer": [
{"transform": [{"filter": "datum.lvl > 1"}], "mark": {"type": "rule", "color": "#222", "strokeWidth": 1.2}, "encoding": {"x": {"field": "a", "type": "quantitative", "scale": {"domain": [0.3175, 5.6825], "nice": false, "zero": false}, "axis": null}, "x2": {"field": "b"}}},
{"transform": [{"filter": "datum.lvl == 1"}], "mark": {"type": "rule", "color": "#222", "strokeWidth": 1.2, "x2Offset": -2}, "encoding": {"x": {"field": "a", "type": "quantitative", "scale": {"domain": [0.3175, 5.6825], "nice": false, "zero": false}, "axis": null}, "x2": {"field": "b"}}},
{"mark": {"type": "tick", "orient": "vertical", "size": 4, "thickness": 1.2, "yOffset": 2, "color": "#222"}, "encoding": {"x": {"field": "a", "type": "quantitative", "scale": {"domain": [0.3175, 5.6825], "nice": false, "zero": false}, "axis": null}}},
{"transform": [{"filter": "datum.lvl > 1"}], "mark": {"type": "tick", "orient": "vertical", "size": 4, "thickness": 1.2, "yOffset": 2, "color": "#222"}, "encoding": {"x": {"field": "b", "type": "quantitative", "scale": {"domain": [0.3175, 5.6825], "nice": false, "zero": false}, "axis": null}}},
{"transform": [{"filter": "datum.lvl == 1"}], "mark": {"type": "tick", "orient": "vertical", "size": 4, "thickness": 1.2, "yOffset": 2, "xOffset": -2, "color": "#222"}, "encoding": {"x": {"field": "b", "type": "quantitative", "scale": {"domain": [0.3175, 5.6825], "nice": false, "zero": false}, "axis": null}}},
{"mark": {"type": "text", "fontSize": 6.6, "dx": 31, "dy": -2, "baseline": "bottom", "align": "center", "color": "#333"}, "encoding": {"x": {"field": "a", "type": "quantitative", "scale": {"domain": [0.3175, 5.6825], "nice": false, "zero": false}, "axis": null}, "text": {"field": "t"}}}
]
},
{
"width": 338, "height": 97,
"layer": [
{"data": {"name": "pts"}, "transform": [{"filter": "datum.p == 'C'"}], "mark": {"type": "circle", "size": 13, "opacity": 1},
"encoding": {
"x": {"field": "s", "type": "nominal", "scale": {"type": "band", "domain": ["H77 (1a)","J4 (1b)","JFH1 (2a)","S52 (3a)","ED43 (4a)"], "paddingInner": 0, "paddingOuter": 0.182, "align": 0.5}, "axis": {"title": null, "ticks": false, "labelAngle": 0, "labelFontSize": 6, "labelFontWeight": "bold", "labelPadding": 2, "labelColor": "#111", "domainColor": "#999", "domainWidth": 1.5}},
"xOffset": {"field": "j", "type": "quantitative", "scale": {"domain": [-10.5, 10.5]}},
"y": {"field": "v", "type": "quantitative", "scale": {"type": "log", "domain": [0.1, 1000000], "nice": false}, "axis": {"title": "AUC", "titleFontSize": 7, "titleFontWeight": "bold", "titleColor": "#111", "titlePadding": 5, "values": [0.1, 1, 10, 100, 1000, 10000, 100000, 1000000], "labelExpr": "'1×10' + (datum.value < 0.5 ? '⁻¹' : ['⁰','¹','²','³','⁴','⁵','⁶','⁷'][round(log(datum.value)/LN10)])", "labelFontSize": 6, "labelColor": "#222", "labelPadding": 2, "labelOverlap": false, "labelFlush": false, "tickSize": 2.5, "tickColor": "#444", "domainColor": "#444"}},
"color": {"field": "s", "type": "nominal", "scale": {"domain": ["H77 (1a)","J4 (1b)","JFH1 (2a)","S52 (3a)","ED43 (4a)"], "range": ["#e8202a","#26b826","#1c1ccc","#9d2fd6","#f26d22"]}, "legend": null}
}},
{"data": {"name": "med"}, "transform": [{"filter": "datum.p == 'C'"}], "mark": {"type": "tick", "orient": "horizontal", "size": 42, "thickness": 1.5},
"encoding": {"x": {"field": "s", "type": "nominal"}, "y": {"field": "v", "type": "quantitative"}, "color": {"field": "s", "type": "nominal", "legend": null}}}
]
},
{
"width": 338, "height": 115,
"title": {"text": "D", "anchor": "start", "frame": "group", "fontSize": 12, "fontWeight": "bold", "offset": 0, "dx": -10, "dy": 75, "baseline": "alphabetic", "color": "#000"},
"data": {"name": "br"},
"transform": [{"filter": "datum.p == 'D'"}],
"encoding": {"y": {"field": "lvl", "type": "quantitative", "scale": {"domain": [0.81, 11.76], "nice": false, "zero": false}, "axis": null}},
"layer": [
{"transform": [{"filter": "datum.lvl > 1"}], "mark": {"type": "rule", "color": "#222", "strokeWidth": 1.2}, "encoding": {"x": {"field": "a", "type": "quantitative", "scale": {"domain": [0.3175, 5.6825], "nice": false, "zero": false}, "axis": null}, "x2": {"field": "b"}}},
{"transform": [{"filter": "datum.lvl == 1"}], "mark": {"type": "rule", "color": "#222", "strokeWidth": 1.2, "x2Offset": -2}, "encoding": {"x": {"field": "a", "type": "quantitative", "scale": {"domain": [0.3175, 5.6825], "nice": false, "zero": false}, "axis": null}, "x2": {"field": "b"}}},
{"mark": {"type": "tick", "orient": "vertical", "size": 4, "thickness": 1.2, "yOffset": 2, "color": "#222"}, "encoding": {"x": {"field": "a", "type": "quantitative", "scale": {"domain": [0.3175, 5.6825], "nice": false, "zero": false}, "axis": null}}},
{"transform": [{"filter": "datum.lvl > 1"}], "mark": {"type": "tick", "orient": "vertical", "size": 4, "thickness": 1.2, "yOffset": 2, "color": "#222"}, "encoding": {"x": {"field": "b", "type": "quantitative", "scale": {"domain": [0.3175, 5.6825], "nice": false, "zero": false}, "axis": null}}},
{"transform": [{"filter": "datum.lvl == 1"}], "mark": {"type": "tick", "orient": "vertical", "size": 4, "thickness": 1.2, "yOffset": 2, "xOffset": -2, "color": "#222"}, "encoding": {"x": {"field": "b", "type": "quantitative", "scale": {"domain": [0.3175, 5.6825], "nice": false, "zero": false}, "axis": null}}},
{"mark": {"type": "text", "fontSize": 6.6, "dx": 31, "dy": -2, "baseline": "bottom", "align": "center", "color": "#333"}, "encoding": {"x": {"field": "a", "type": "quantitative", "scale": {"domain": [0.3175, 5.6825], "nice": false, "zero": false}, "axis": null}, "text": {"field": "t"}}}
]
},
{
"width": 338, "height": 97,
"layer": [
{"data": {"name": "pts"}, "transform": [{"filter": "datum.p == 'D'"}], "mark": {"type": "circle", "size": 13, "opacity": 1},
"encoding": {
"x": {"field": "s", "type": "nominal", "scale": {"type": "band", "domain": ["H77 (1a)","J4 (1b)","JFH1 (2a)","S52 (3a)","ED43 (4a)"], "paddingInner": 0, "paddingOuter": 0.182, "align": 0.5}, "axis": {"title": null, "ticks": false, "labelAngle": 0, "labelFontSize": 6, "labelFontWeight": "bold", "labelPadding": 2, "labelColor": "#111", "domainColor": "#999", "domainWidth": 1.5}},
"xOffset": {"field": "j", "type": "quantitative", "scale": {"domain": [-10.5, 10.5]}},
"y": {"field": "v", "type": "quantitative", "scale": {"type": "log", "domain": [0.1, 1000000], "nice": false}, "axis": {"title": "ID50", "titleFontSize": 7, "titleFontWeight": "bold", "titleColor": "#111", "titlePadding": 5, "values": [0.1, 1, 10, 100, 1000, 10000, 100000, 1000000], "labelExpr": "'1×10' + (datum.value < 0.5 ? '⁻¹' : ['⁰','¹','²','³','⁴','⁵','⁶','⁷'][round(log(datum.value)/LN10)])", "labelFontSize": 6, "labelColor": "#222", "labelPadding": 2, "labelOverlap": false, "labelFlush": false, "tickSize": 2.5, "tickColor": "#444", "domainColor": "#444"}},
"color": {"field": "s", "type": "nominal", "scale": {"domain": ["H77 (1a)","J4 (1b)","JFH1 (2a)","S52 (3a)","ED43 (4a)"], "range": ["#e8202a","#26b826","#1c1ccc","#9d2fd6","#f26d22"]}, "legend": null}
}},
{"data": {"name": "med"}, "transform": [{"filter": "datum.p == 'D'"}], "mark": {"type": "tick", "orient": "horizontal", "size": 42, "thickness": 1.5},
"encoding": {"x": {"field": "s", "type": "nominal"}, "y": {"field": "v", "type": "quantitative"}, "color": {"field": "s", "type": "nominal", "legend": null}}}
]
}
]
}
]
}
